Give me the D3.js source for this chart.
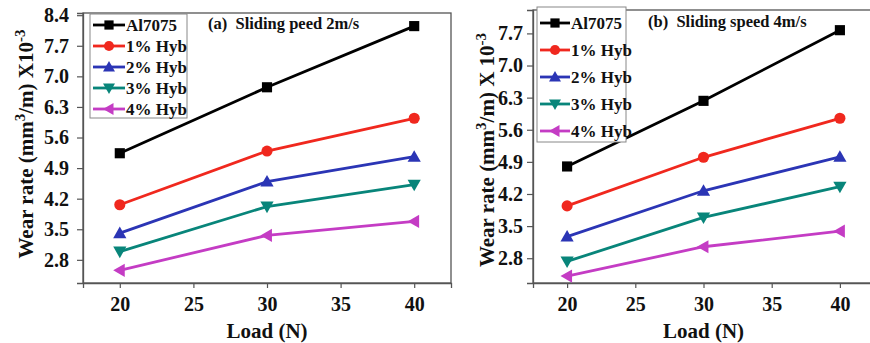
<!DOCTYPE html>
<html>
<head>
<meta charset="utf-8">
<script src="https://cdn.jsdelivr.net/npm/d3@7"></script>
<style>
  body { margin: 0; background: #fff; }
  svg { display: block; }
  svg text { font-family: "Liberation Serif", "Times New Roman", serif !important; font-weight: bold; }
</style>
</head>
<body>
<div id="chart"></div>
<script>
// loads on x axis
var loads = [20, 30, 40];
var seriesNames = ['Al7075', '1% Hyb', '2% Hyb', '3% Hyb', '4% Hyb'];
var seriesColors = ['#000000', '#f0281e', '#2b35b5', '#08857a', '#c43cc4'];
var seriesMarkers = ['square', 'circle', 'triangle', 'triangleDown', 'triangleLeft'];

// (a) sliding speed 2 m/s
var wearA_Al7075 = [5.24, 6.75, 8.15];
var wearA_1 = [4.06, 5.29, 6.04];
var wearA_2 = [3.41, 4.59, 5.16];
var wearA_3 = [2.99, 4.02, 4.52];
var wearA_4 = [2.56, 3.36, 3.68];

// (b) sliding speed 4 m/s
var wearB_Al7075 = [4.80, 6.23, 7.77];
var wearB_1 = [3.94, 5.00, 5.85];
var wearB_2 = [3.27, 4.27, 5.01];
var wearB_3 = [2.73, 3.69, 4.36];
var wearB_4 = [2.41, 3.05, 3.39];

var xTicks = [20, 25, 30, 35, 40];
var yTicksA = [2.8, 3.5, 4.2, 4.9, 5.6, 6.3, 7.0, 7.7, 8.4];
var yTicksB = [2.8, 3.5, 4.2, 4.9, 5.6, 6.3, 7.0, 7.7];

var FONT = '"Liberation Serif", "Times New Roman", serif';
var W = 870, H = 343;
var svg = d3.select('#chart').append('svg')
  .attr('width', W).attr('height', H);

function markerPath(type, s) {
  switch (type) {
    case 'square': return d3.symbol().type(d3.symbolSquare).size(s * s * 0.85)();
    case 'circle': return d3.symbol().type(d3.symbolCircle).size(s * s * 0.8)();
    case 'triangle': return 'M0,' + (-s * 0.6) + 'L' + (s * 0.6) + ',' + (s * 0.45) + 'L' + (-s * 0.6) + ',' + (s * 0.45) + 'Z';
    case 'triangleDown': return 'M0,' + (s * 0.6) + 'L' + (s * 0.6) + ',' + (-s * 0.45) + 'L' + (-s * 0.6) + ',' + (-s * 0.45) + 'Z';
    case 'triangleLeft': return 'M' + (-s * 0.6) + ',0L' + (s * 0.45) + ',' + (-s * 0.6) + 'L' + (s * 0.45) + ',' + (s * 0.6) + 'Z';
  }
}

function drawPanel(cfg) {
  var x = d3.scaleLinear().domain([17.5, 42.5]).range([cfg.left, cfg.right]);
  var y = d3.scaleLinear().domain(cfg.yDomain).range([cfg.bottom, cfg.top]);
  var g = svg.append('g');

  // frame
  g.append('rect')
    .attr('x', cfg.left).attr('y', cfg.top)
    .attr('width', cfg.right - cfg.left).attr('height', cfg.bottom - cfg.top)
    .attr('fill', 'none').attr('stroke', '#555').attr('stroke-width', 1.3);

  var xAxis = g.append('g')
    .attr('transform', 'translate(0,' + cfg.bottom + ')')
    .call(d3.axisBottom(x).tickValues(xTicks).tickSize(5).tickPadding(6).tickFormat(d3.format('d')));
  var yAxis = g.append('g')
    .attr('transform', 'translate(' + cfg.left + ',0)')
    .call(d3.axisLeft(y).tickValues(cfg.yTicks).tickSize(6).tickPadding(cfg.yPad).tickFormat(d3.format('.1f')));
  [xAxis, yAxis].forEach(function(a) {
    a.attr('font-family', FONT);
    a.select('.domain').attr('stroke', '#555').attr('stroke-width', 1.3);
    a.selectAll('.tick line').attr('stroke', '#555').attr('stroke-width', 1.2);
    a.selectAll('.tick text')
      .attr('fill', '#111')
      .style('font-family', FONT)
      .style('font-weight', 'bold')
      .style('font-size', '20px');
  });
  xAxis.selectAll('.tick text').attr('dy', '0.85em');

  var line = d3.line()
    .x(function(d, i) { return x(loads[i]); })
    .y(function(d) { return y(d); });

  cfg.series.forEach(function(vals, si) {
    g.append('path')
      .datum(vals)
      .attr('d', line)
      .attr('fill', 'none')
      .attr('stroke', seriesColors[si])
      .attr('stroke-width', 2.8);
    g.selectAll('.m' + si)
      .data(vals)
      .enter().append('path')
      .attr('transform', function(d, i) { return 'translate(' + x(loads[i]) + ',' + y(d) + ')'; })
      .attr('d', markerPath(seriesMarkers[si], 11))
      .attr('fill', seriesColors[si]);
  });

  // legend
  var lg = g.append('g');
  lg.append('rect')
    .attr('x', cfg.legend.x).attr('y', cfg.legend.y)
    .attr('width', cfg.legend.w).attr('height', cfg.legend.h)
    .attr('fill', '#fff').attr('stroke', '#888').attr('stroke-width', 1);
  seriesNames.forEach(function(name, si) {
    var ry = cfg.legend.firstRow + si * cfg.legend.step;
    var lx0 = cfg.legend.x + 3, lx1 = cfg.legend.x + cfg.legend.lineW;
    lg.append('line')
      .attr('x1', lx0).attr('x2', lx1).attr('y1', ry).attr('y2', ry)
      .attr('stroke', seriesColors[si]).attr('stroke-width', 2.8);
    lg.append('path')
      .attr('transform', 'translate(' + ((lx0 + lx1) / 2) + ',' + ry + ')')
      .attr('d', markerPath(seriesMarkers[si], 10))
      .attr('fill', seriesColors[si]);
    lg.append('text')
      .attr('x', lx1 + 1).attr('y', ry).attr('dy', '0.35em')
      .style('font-family', FONT).style('font-weight', 'bold')
      .style('font-size', cfg.legend.font).attr('fill', '#111')
      .text(name);
  });

  // title
  g.append('text')
    .attr('x', cfg.title.x).attr('y', cfg.title.y)
    .style('font-family', FONT).style('font-weight', 'bold')
    .style('font-size', '16.5px').attr('fill', '#111')
    .style('white-space', 'pre')
    .text(cfg.title.text);

  // x label
  g.append('text')
    .attr('x', (x(20) + x(40)) / 2).attr('y', 338)
    .attr('text-anchor', 'middle')
    .style('font-family', FONT).style('font-weight', 'bold')
    .style('font-size', '21px').attr('fill', '#111')
    .text('Load (N)');

  // y label
  var yl = g.append('text')
    .attr('transform', 'translate(' + cfg.yLabel.x + ',' + cfg.yLabel.y + ') rotate(-90)')
    .attr('text-anchor', 'middle')
    .style('font-family', FONT).style('font-weight', 'bold')
    .style('font-size', cfg.yLabel.font).attr('fill', '#111');
  yl.append('tspan').text('Wear rate (mm');
  yl.append('tspan').attr('dy', -8).style('font-size', '15px').text('3');
  yl.append('tspan').attr('dy', 8).text('/m) ' + cfg.yLabel.mult);
  yl.append('tspan').attr('dy', -8).style('font-size', '15px').text('-3');
}

drawPanel({
  left: 83, right: 451, top: 13, bottom: 283, yPad: 8,
  yDomain: [2.27, 8.45], yTicks: yTicksA,
  series: [wearA_Al7075, wearA_1, wearA_2, wearA_3, wearA_4],
  legend: { x: 90, y: 14, w: 97, h: 104, firstRow: 25, step: 21, lineW: 35, font: '17px' },
  title: { x: 208, y: 29, text: '(a)  Sliding peed 2m/s' },
  yLabel: { x: 33, y: 144, mult: 'X10', font: '21px' }
});

drawPanel({
  left: 533, right: 874, top: 10, bottom: 283, yPad: 4,
  yDomain: [2.26, 8.21], yTicks: yTicksB,
  series: [wearB_Al7075, wearB_1, wearB_2, wearB_3, wearB_4],
  legend: { x: 537, y: 7, w: 89, h: 135, firstRow: 23, step: 27, lineW: 33, font: '17px' },
  title: { x: 648, y: 27, text: '(b)  Sliding speed 4m/s' },
  yLabel: { x: 494, y: 150, mult: 'X 10', font: '21px' }
});
</script>
</body>
</html>
